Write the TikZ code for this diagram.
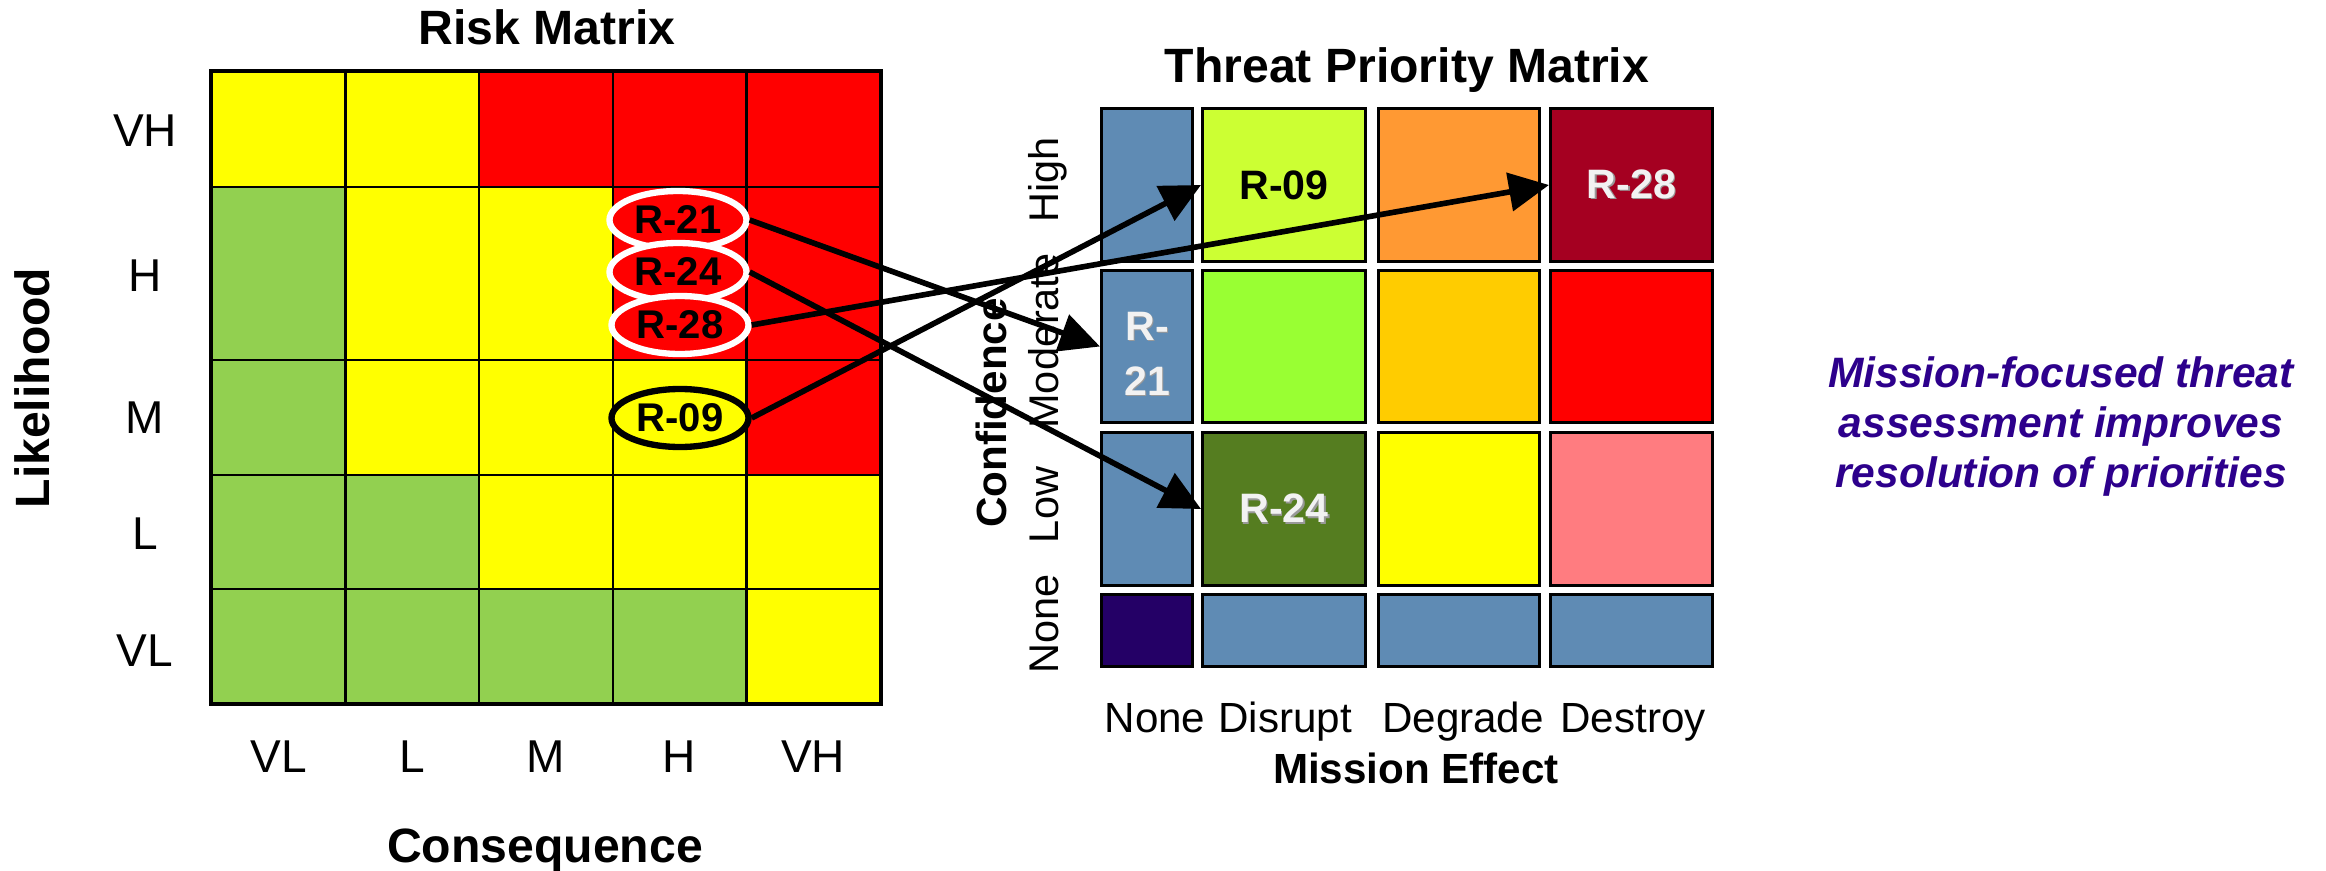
\documentclass[tikz,border=0pt]{standalone}
\usepackage{fontspec}
\setmainfont{Liberation Sans}
\usetikzlibrary{arrows.meta,positioning,shapes.geometric}
\definecolor{rmgreen}{RGB}{146,208,80}
\definecolor{rmyellow}{RGB}{255,255,0}
\definecolor{rmred}{RGB}{255,0,0}
\definecolor{tpblue}{RGB}{95,139,180}
\definecolor{tplime}{RGB}{204,255,51}
\definecolor{tporange}{RGB}{255,153,51}
\definecolor{tpmaroon}{RGB}{165,0,33}
\definecolor{tpgreen}{RGB}{153,255,51}
\definecolor{tpgold}{RGB}{255,204,0}
\definecolor{tpolive}{RGB}{85,125,32}
\definecolor{tppink}{RGB}{255,124,128}
\definecolor{tpindigo}{RGB}{36,0,102}
\definecolor{offwhite}{RGB}{242,242,242}
\definecolor{msgviolet}{RGB}{45,0,140}
\tikzset{
  >={Triangle[length=4mm,width=3.8mm]},
  rcell/.style={draw=black,line width=0.7pt,fill=#1,minimum width=13.36mm,inner sep=0pt},
  tcell/.style={draw=black,line width=0.85pt,fill=#1,inner sep=0pt},
  ttl/.style={font=\fontsize{13.7}{16}\selectfont\bfseries,inner sep=0pt},
  axlab/.style={font=\fontsize{13.1}{15}\selectfont,inner sep=0pt},
  tplab/.style={font=\fontsize{11.8}{14}\selectfont,inner sep=0pt,rotate=90,anchor=base},
  efflab/.style={font=\fontsize{12}{14}\selectfont,inner sep=0pt,anchor=base},
  subttl/.style={font=\fontsize{12}{14}\selectfont\bfseries,inner sep=0pt},
  risk/.style 2 args={ellipse,draw=#1,fill=#2,line width=1.8pt,minimum width=13.7mm,
    minimum height=5.8mm,inner sep=1pt,font=\fontsize{11.4}{13}\selectfont\bfseries},
  tag/.style={font=\fontsize{11.7}{15.6}\selectfont\bfseries,text=#1,align=center,inner sep=0pt},
  tag/.default=offwhite,
  link/.style={->,line width=1.6pt,draw=black},
}
% soft drop shadow under white cell text
\newcommand{\shd}[1]{\makebox[0pt][l]{\kern0.15mm\raisebox{-0.15mm}{\color{black!40}#1}}#1}

\begin{document}
\begin{tikzpicture}[x=0.1mm,y=-0.1mm]
  \path[use as bounding box,fill=white] (0,0) rectangle (2326,871);

  % risk matrix
  \foreach \row/\top/\bot [count=\r] in {
    {rmyellow,rmyellow,rmred,rmred,rmred}/72/187,
    {rmgreen,rmyellow,rmyellow,rmred,rmred}/187/360,
    {rmgreen,rmyellow,rmyellow,rmyellow,rmred}/360/475,
    {rmgreen,rmgreen,rmyellow,rmyellow,rmyellow}/475/589,
    {rmgreen,rmgreen,rmgreen,rmgreen,rmyellow}/589/703}
  {
    \foreach \c [count=\k from 0] in \row {
      \pgfmathsetmacro{\cx}{278.8+133.6*\k}
      \pgfmathsetmacro{\cy}{(\top+\bot)/2}
      \pgfmathsetmacro{\h}{(\bot-\top)/10}
      \node[rcell=\c,minimum height=\h mm] (rm\r\k) at (\cx,\cy) {};
    }
  }
  \draw[line width=1pt] (rm10.north west) rectangle (rm54.south east);

  \node[ttl,anchor=base] (rmtitle) at (547,45) {Risk Matrix};
  \foreach \lab/\y [count=\i] in {VH/131,H/276,M/418,L/534,VL/651}
    \node[axlab] (rl\i) at (145,\y) {\lab};
  \foreach \lab [count=\i from 0] in {VL,L,M,H,VH}
    \node[axlab] (cl\i) at (278.8+133.6*\i,757) {\lab};
  \node[ttl,rotate=90] (likely) at (32,388) {Likelihood};
  \node[ttl,anchor=base] (conseq) at (545,862) {Consequence};

  \node[risk={white}{rmred}] (e21) at (678,220) {R-21};
  \node[risk={white}{rmred}] (e24) at (678,272) {R-24};
  \node[risk={white}{rmred}] (e28) at (680,325) {R-28};
  \node[risk={black}{rmyellow}] (e09) at (680,418) {R-09};

  % threat priority matrix
  \foreach \row/\cy/\hh [count=\r from 0] in {
    {tpblue,tplime,tporange,tpmaroon}/185/15.3,
    {tpblue,tpgreen,tpgold,rmred}/346.5/15.2,
    {tpblue,tpolive,rmyellow,tppink}/509/15.3,
    {tpindigo,tpblue,tpblue,tpblue}/630.5/7.2}
  {
    \foreach \c [count=\k from 0] in \row {
      \pgfmathsetmacro{\cx}{{1147,1284,1459,1631.5}[\k]}
      \pgfmathsetmacro{\w}{{9.1,16.3,16.1,16.2}[\k]}
      \node[tcell=\c,minimum width=\w mm,minimum height=\hh mm] (tp\r\k) at (\cx,\cy) {};
    }
  }
  \node[tag=black] (t09) at (tp01) {R-09};
  \node[tag] (t28) at (tp03) {\shd{R-28}};
  \node[tag] (t24) at (tp21) {\shd{R-24}};
  \node[tag] (t21) at ([yshift=-0.8mm]tp10.center) {\shd{R-}\\\shd{21}};

  \node[ttl,anchor=base] (tptitle) at (1407,82) {Threat Priority Matrix};
  \foreach \lab/\y [count=\i from 0] in {High/180,Moderate/341,Low/505,None/624}
    \node[tplab] (conf\i) at (1058,\y) {\lab};
  \node[subttl,rotate=90,anchor=base] (confid) at (1006,413) {Confidence};
  \foreach \lab/\x [count=\i from 0] in {None/1155,Disrupt/1285,Degrade/1463,Destroy/1633}
    \node[efflab] (eff\i) at (\x,732) {\lab};
  \node[subttl,anchor=base] (effect) at (1416,783) {Mission Effect};

  \node[font=\fontsize{12.1}{14.2}\selectfont\bfseries\itshape,text=msgviolet,
    align=center,inner sep=0pt,anchor=north] (msg) at (2061,356)
    {Mission-focused threat\\assessment improves\\resolution of priorities};

  \draw[link] (e21.east) -- (tp10.west);
  \draw[link] (e24.east) -- (tp21.west);
  \draw[link] (e28.east) -- (tp03.west);
  \draw[link] (e09.east) -- (tp01.west);
\end{tikzpicture}
\end{document}
